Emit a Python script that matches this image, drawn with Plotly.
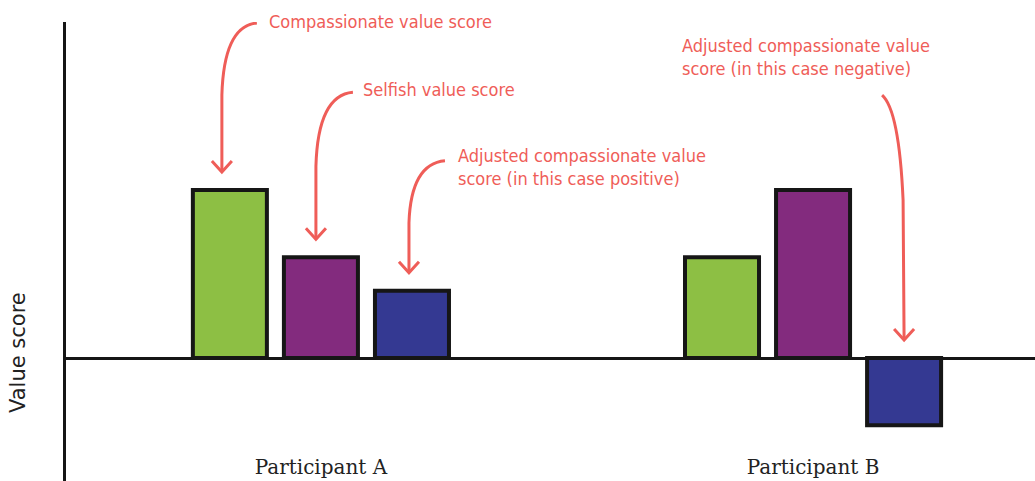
import plotly.graph_objects as go

# ---------------- data ----------------
participants = ["Participant A", "Participant B"]
series_names = ["Compassionate value score", "Selfish value score",
                "Adjusted compassionate value score"]
compassionate = [5, 3]
selfish = [3, 5]
adjusted = [2, -2]
series_values = [compassionate, selfish, adjusted]
colors = ["#8DBF44", "#832B7E", "#343992"]

callout_texts = [
    "Compassionate value score",
    "Selfish value score",
    "Adjusted compassionate value<br>score (in this case positive)",
    "Adjusted compassionate value<br>score (in this case negative)",
]
# (series index, participant index) each callout points at
callout_targets = [(0, 0), (1, 0), (2, 0), (2, 1)]

# ---------------- layout constants ----------------
W, H = 1035, 481
ML, MT = 66, 22
x_range = [-0.518, 1.451]
y_range = [-3.66, 10]
XU = (W - ML) / (x_range[1] - x_range[0])   # px per x unit
YU = (H - MT) / (y_range[1] - y_range[0])   # px per y unit
SLOT = 0.185                                 # width of one bar slot (x units)
RED = "#EF5D58"


def to_paper(x, y):
    return ((x - x_range[0]) / (x_range[1] - x_range[0]),
            (y - y_range[0]) / (y_range[1] - y_range[0]))


fig = go.Figure()
xs = list(range(len(participants)))
for vals, name, col in zip(series_values, series_names, colors):
    fig.add_bar(x=xs, y=vals, name=name,
                marker=dict(color=col, line=dict(color="#161616", width=4)))

# arrow geometry (pixel offsets relative to the arrow tip)
arrow_geom = [
    dict(tdx=-8, s=(35, -149), c=(2, -146), m=(0, -77), t=(45, -151)),
    dict(tdx=-5, s=(37, -147), c=(2, -144), m=(0, -73), t=(45, -150)),
    dict(tdx=-3, s=(36, -112), c=(2, -109), m=(0, -50), t=(47, -106)),
    dict(tdx=0, s=(-22, -245), c=(-5, -230), m=(-1, -140), t=(-224, -283)),
]
GAP = 18  # px between bar top and arrow tip

annotations = []
shapes = []
for (si, pi), text, g in zip(callout_targets, callout_texts, arrow_geom):
    val = series_values[si][pi]
    bx = pi + (si - 1) * SLOT + g["tdx"] / XU
    by = max(val, 0) + GAP / YU

    def P(d):
        return bx + d[0] / XU, by - d[1] / YU

    sx, sy = P(g["s"]); cx, cy = P(g["c"]); mx, my = P(g["m"])
    path = f"M {sx},{sy} Q {cx},{cy} {mx},{my} L {bx},{by}"
    shapes.append(dict(type="path", path=path, xref="x", yref="y",
                       line=dict(color=RED, width=3)))
    lx, ly = P((-10, -11)); rx, ry = P((10, -11))
    shapes.append(dict(type="path", path=f"M {lx},{ly} L {bx},{by} L {rx},{ry}",
                       xref="x", yref="y", line=dict(color=RED, width=3)))
    tx, ty = to_paper(*P(g["t"]))
    annotations.append(dict(x=tx, y=ty, xref="paper", yref="paper", text=text,
                            showarrow=False, xanchor="left", yanchor="middle",
                            align="left",
                            font=dict(family="DejaVu Sans Condensed, Liberation Sans Narrow, DejaVu Sans, sans-serif",
                                      size=18, color=RED)))

annotations.append(dict(text="Value score", textangle=-90, xref="paper", yref="paper",
                        x=(18 - ML) / (W - ML), y=(H - 353) / (H - MT),
                        xanchor="center", yanchor="middle", showarrow=False,
                        font=dict(family="DejaVu Sans, sans-serif",
                                  size=21, color="#222222")))

fig.update_layout(
    width=W, height=H,
    margin=dict(l=ML, r=0, t=MT, b=0),
    barmode="group", bargap=1 - 3 * SLOT, bargroupgap=0.187,
    showlegend=False,
    plot_bgcolor="white", paper_bgcolor="white",
    annotations=annotations, shapes=shapes,
)
fig.update_xaxes(range=x_range, tickvals=xs, ticktext=participants,
                 ticklabelposition="inside", ticks="", showgrid=False,
                 zeroline=False, showline=False,
                 tickfont=dict(family="DejaVu Serif, serif", size=20, color="#222222"))
fig.update_yaxes(range=y_range, showticklabels=False, ticks="", showgrid=False,
                 zeroline=True, zerolinecolor="#161616", zerolinewidth=3,
                 showline=True, linecolor="#161616", linewidth=3)

fig.write_html("out.html", config={"displayModeBar": False},
               post_script="document.body.style.margin='0';document.body.style.padding='0';document.body.style.overflow='hidden';")
